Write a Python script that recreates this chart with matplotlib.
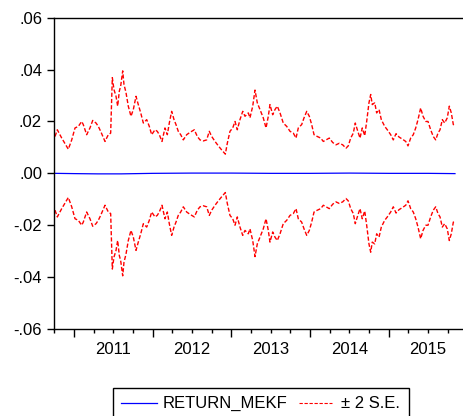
import matplotlib
matplotlib.use("Agg")
import matplotlib.pyplot as plt
from matplotlib.patches import Rectangle
from matplotlib.lines import Line2D

plt.rcParams['font.family'] = ['Liberation Sans', 'DejaVu Sans']

# time as decimal years
se_time = [2010.759, 2010.788, 2010.844, 2010.928, 2010.971, 2011.013, 2011.055, 2011.098,
           2011.118, 2011.161, 2011.203, 2011.238, 2011.280, 2011.309, 2011.339, 2011.394,
           2011.436, 2011.466, 2011.487, 2011.508, 2011.534, 2011.555, 2011.576, 2011.593,
           2011.619, 2011.635, 2011.661, 2011.690, 2011.724, 2011.754, 2011.788, 2011.817,
           2011.848, 2011.881, 2011.924, 2011.957, 2011.987, 2012.029, 2012.058, 2012.084,
           2012.118, 2012.156, 2012.186, 2012.211, 2012.241, 2012.271, 2012.296, 2012.325,
           2012.356, 2012.389, 2012.432, 2012.474, 2012.529, 2012.567, 2012.601, 2012.643,
           2012.686, 2012.719, 2012.750, 2012.792, 2012.834, 2012.877, 2012.923, 2012.948,
           2012.982, 2013.017, 2013.046, 2013.075, 2013.109, 2013.144, 2013.173, 2013.215,
           2013.236, 2013.271, 2013.300, 2013.329, 2013.363, 2013.405, 2013.440, 2013.469,
           2013.490, 2013.525, 2013.554, 2013.583, 2013.618, 2013.659, 2013.703, 2013.745,
           2013.787, 2013.821, 2013.850, 2013.893, 2013.923, 2013.957, 2013.990, 2014.020,
           2014.050, 2014.092, 2014.135, 2014.168, 2014.202, 2014.244, 2014.287, 2014.329,
           2014.371, 2014.414, 2014.456, 2014.485, 2014.516, 2014.549, 2014.574, 2014.600,
           2014.634, 2014.663, 2014.694, 2014.719, 2014.748, 2014.770, 2014.790, 2014.821,
           2014.846, 2014.876, 2014.905, 2014.948, 2014.981, 2015.024, 2015.057, 2015.092,
           2015.130, 2015.172, 2015.215, 2015.244, 2015.278, 2015.311, 2015.342, 2015.371,
           2015.405, 2015.435, 2015.469, 2015.498, 2015.532, 2015.565, 2015.596, 2015.625,
           2015.651, 2015.680, 2015.710, 2015.743, 2015.769, 2015.794, 2015.820, 2015.841]

# two standard errors (band half-width)
two_se = [0.0142, 0.0168, 0.0136, 0.0093, 0.0129, 0.0175, 0.0181, 0.0200,
          0.0188, 0.0149, 0.0175, 0.0204, 0.0194, 0.0181, 0.0162, 0.0123,
          0.0149, 0.0155, 0.0369, 0.0323, 0.0297, 0.0259, 0.0317, 0.0336,
          0.0395, 0.0343, 0.0311, 0.0259, 0.0220, 0.0246, 0.0297, 0.0265,
          0.0233, 0.0194, 0.0207, 0.0181, 0.0149, 0.0168, 0.0162, 0.0149,
          0.0123, 0.0175, 0.0149, 0.0194, 0.0239, 0.0207, 0.0188, 0.0162,
          0.0149, 0.0129, 0.0149, 0.0158, 0.0168, 0.0142, 0.0129, 0.0125,
          0.0129, 0.0162, 0.0142, 0.0123, 0.0106, 0.0090, 0.0074, 0.0116,
          0.0162, 0.0175, 0.0200, 0.0168, 0.0207, 0.0239, 0.0220, 0.0233,
          0.0214, 0.0259, 0.0321, 0.0272, 0.0246, 0.0214, 0.0175, 0.0220,
          0.0265, 0.0226, 0.0246, 0.0259, 0.0233, 0.0194, 0.0181, 0.0162,
          0.0155, 0.0136, 0.0175, 0.0188, 0.0214, 0.0239, 0.0220, 0.0188,
          0.0149, 0.0142, 0.0136, 0.0123, 0.0129, 0.0136, 0.0119, 0.0110,
          0.0116, 0.0110, 0.0097, 0.0106, 0.0136, 0.0155, 0.0194, 0.0168,
          0.0136, 0.0175, 0.0145, 0.0200, 0.0272, 0.0304, 0.0265, 0.0272,
          0.0233, 0.0246, 0.0207, 0.0181, 0.0168, 0.0149, 0.0129, 0.0153,
          0.0140, 0.0132, 0.0123, 0.0106, 0.0136, 0.0149, 0.0175, 0.0207,
          0.0252, 0.0220, 0.0200, 0.0200, 0.0168, 0.0142, 0.0129, 0.0155,
          0.0168, 0.0207, 0.0194, 0.0214, 0.0259, 0.0233, 0.0188, 0.0181]

fc_time = [2010.759, 2011.0, 2011.3, 2011.6, 2012.0, 2012.5, 2013.0, 2013.5, 2014.0, 2014.5, 2015.0, 2015.5, 2015.841]
forecast = [0.0000, -0.0001, -0.0002, -0.0002, 0.0000, 0.0001, 0.0001, 0.0000, 0.0000, 0.0001, 0.0000, 0.0000, -0.0001]

years = [2011, 2012, 2013, 2014, 2015]
yticks = [0.06, 0.04, 0.02, 0.00, -0.02, -0.04, -0.06]
ytick_labels = ['.06', '.04', '.02', '.00', '-.02', '-.04', '-.06']

W, H = 464, 416
fig = plt.figure(figsize=(W / 100, H / 100), dpi=100)
ax = fig.add_axes([54 / W, (H - 329) / H, (466 - 54) / W, (329 - 17.7) / H])

upper = [v for v in two_se]
lower = [-v for v in two_se]
dash = (0, (3.0, 1.5))
ax.plot(fc_time, forecast, color='#0000ff', lw=0.9)
ax.plot(se_time, upper, color='#ff0000', lw=1.0, linestyle=dash)
ax.plot(se_time, lower, color='#ff0000', lw=1.0, linestyle=dash)

ax.set_xlim(2010.746, 2011 + (466 - 74) / 78.7)
ax.set_ylim(-0.06, 0.06)
ax.set_yticks(yticks)
ax.set_yticklabels(ytick_labels)

ax.set_xticks([y for y in years])
ax.set_xticklabels([])
ax.set_xticks([y + q for y in [2010] + years for q in (0.25, 0.5, 0.75) if 2010.746 < y + q < 2016], minor=True)
ax.tick_params(axis='x', which='major', direction='out', length=5.5, width=1, color='black')
ax.tick_params(axis='x', which='minor', direction='out', length=3.1, width=1, color='black')
ax.tick_params(axis='y', which='major', direction='out', length=5.2, width=1, pad=3.4,
               labelsize=12)
label_y = -(349 - 329) / (329 - 17.7)
for y in years:
    ax.text(y + 0.5, label_y, str(y), transform=ax.get_xaxis_transform(),
            ha='center', va='center', fontsize=12, clip_on=False)

for s in ['left', 'bottom', 'top']:
    ax.spines[s].set_linewidth(1.0)
ax.spines['right'].set_visible(False)

# legend box (extends below figure bottom)
lx0, lx1, ly0 = 112.7, 409.3, 388.3
fig.add_artist(Rectangle((lx0 / W, -0.05), (lx1 - lx0) / W, (H - ly0) / H + 0.05,
                         transform=fig.transFigure, fill=False, edgecolor='black', lw=1.0))
ly = (H - 403.3) / H
fig.add_artist(Line2D([120.7 / W, 156.7 / W], [ly, ly], transform=fig.transFigure,
                      color='#0000ff', lw=0.9))
fig.text(162.7 / W, ly, 'RETURN_MEKF', ha='left', va='center', fontsize=12)
fig.add_artist(Line2D([299.3 / W, 331.7 / W], [ly, ly], transform=fig.transFigure,
                      color='#ff0000', lw=0.8, linestyle=dash))
fig.text(341 / W, ly, '± 2 S.E.', ha='left', va='center', fontsize=12)

fig.savefig('out.png', dpi=100)
